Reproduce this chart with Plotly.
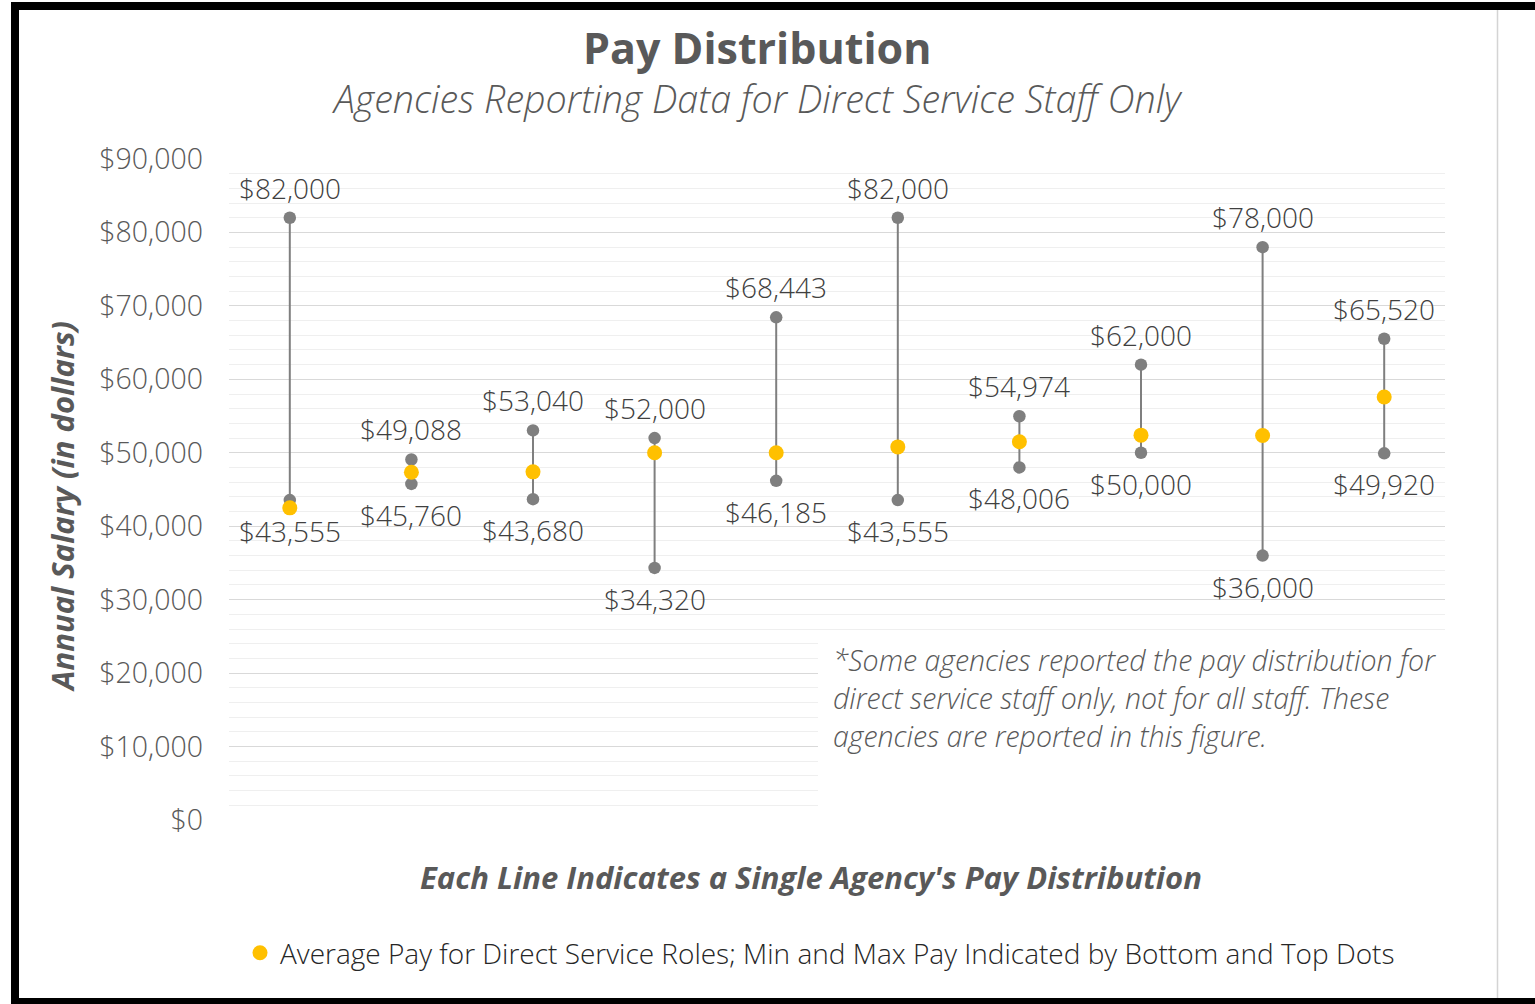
import plotly.graph_objects as go

# ---------------- data ----------------
AGENCIES = [1, 2, 3, 4, 5, 6, 7, 8, 9, 10]
MAX_PAY = [82000, 49088, 53040, 52000, 68443, 82000, 54974, 62000, 78000, 65520]
MIN_PAY = [43555, 45760, 43680, 34320, 46185, 43555, 48006, 50000, 36000, 49920]
AVG_PAY = [42500, 47350, 47400, 50000, 50000, 50800, 51500, 52400, 52350, 57600]
MAX_LABELS = ["$82,000", "$49,088", "$53,040", "$52,000", "$68,443",
              "$82,000", "$54,974", "$62,000", "$78,000", "$65,520"]
MIN_LABELS = ["$43,555", "$45,760", "$43,680", "$34,320", "$46,185",
              "$43,555", "$48,006", "$50,000", "$36,000", "$49,920"]
Y_TICKS = [0, 10000, 20000, 30000, 40000, 50000, 60000, 70000, 80000, 90000]
Y_TICK_LABELS = ["$0", "$10,000", "$20,000", "$30,000", "$40,000",
                 "$50,000", "$60,000", "$70,000", "$80,000", "$90,000"]
NOTE_LINES = ["*Some agencies reported the pay distribution for",
              "direct service staff only, not for all staff. These",
              "agencies are reported in this figure."]
TITLE = "Pay Distribution"
SUBTITLE = "Agencies Reporting Data for Direct Service Staff Only"
X_TITLE = "Each Line Indicates a Single Agency's Pay Distribution"
Y_TITLE = "Annual Salary (in dollars)"
LEGEND_TEXT = "Average Pay for Direct Service Roles; Min and Max Pay Indicated by Bottom and Top Dots"

# ---------------- layout geometry ----------------
W, H = 1535, 1004
L, R, T, B = 229, 1445, 159, 820   # plot area in pixels
FONT = "Open Sans"
GRAY_TXT = "#595959"
LBL_TXT = "#404040"
DOT_GRAY = "#7f7f7f"
GOLD = "#FFC000"


def px_x(p):
    return (p - L) / (R - L)


def px_y(p):
    return (B - p) / (B - T)


fig = go.Figure()

# vertical range lines
lx, ly = [], []
for a, lo, hi in zip(AGENCIES, MIN_PAY, MAX_PAY):
    lx += [a, a, None]
    ly += [lo, hi, None]
fig.add_trace(go.Scatter(x=lx, y=ly, mode="lines",
                         line=dict(color=DOT_GRAY, width=2),
                         showlegend=False, hoverinfo="skip"))

fig.add_trace(go.Scatter(x=AGENCIES, y=MIN_PAY, mode="markers",
                         marker=dict(color=DOT_GRAY, size=12.5),
                         showlegend=False, name="Min"))
fig.add_trace(go.Scatter(x=AGENCIES, y=MAX_PAY, mode="markers",
                         marker=dict(color=DOT_GRAY, size=12.5),
                         showlegend=False, name="Max"))
fig.add_trace(go.Scatter(x=AGENCIES, y=AVG_PAY, mode="markers",
                         marker=dict(color=GOLD, size=15),
                         showlegend=True, name=LEGEND_TEXT))

annotations = []
for a, v, t in zip(AGENCIES, MAX_PAY, MAX_LABELS):
    annotations.append(dict(x=a, y=v, text=t, showarrow=False, yshift=30,
                            xanchor="center", yanchor="middle",
                            font=dict(family=FONT, size=28, color=LBL_TXT, weight=300)))
for a, v, t in zip(AGENCIES, MIN_PAY, MIN_LABELS):
    annotations.append(dict(x=a, y=v, text=t, showarrow=False, yshift=-31,
                            xanchor="center", yanchor="middle",
                            font=dict(family=FONT, size=28, color=LBL_TXT, weight=300)))

# titles
annotations.append(dict(xref="paper", yref="paper", x=px_x(757), y=px_y(48),
                        text="<b>" + TITLE + "</b>", showarrow=False,
                        xanchor="center", yanchor="middle",
                        font=dict(family=FONT, size=43, color=GRAY_TXT)))
annotations.append(dict(xref="paper", yref="paper", x=px_x(757), y=px_y(98),
                        text="<i>" + SUBTITLE + "</i>", showarrow=False,
                        xanchor="center", yanchor="middle",
                        font=dict(family=FONT, size=37.7, color=GRAY_TXT, weight=300)))
annotations.append(dict(xref="paper", yref="paper", x=px_x(811), y=px_y(877),
                        text="<b><i>" + X_TITLE + "</i></b>", showarrow=False,
                        xanchor="center", yanchor="middle",
                        font=dict(family=FONT, size=31, color=GRAY_TXT)))
annotations.append(dict(xref="paper", yref="paper", x=px_x(62), y=px_y(507),
                        text="<b><i>" + Y_TITLE + "</i></b>", showarrow=False,
                        textangle=-90, xanchor="center", yanchor="middle",
                        font=dict(family=FONT, size=31, color=GRAY_TXT)))
for i, line in enumerate(NOTE_LINES):
    annotations.append(dict(xref="paper", yref="paper", x=px_x(831),
                            y=px_y(660 + 38 * i),
                            text="<i>" + line + "</i>", showarrow=False,
                            xanchor="left", yanchor="middle",
                            font=dict(family=FONT, size=28.5, color=GRAY_TXT, weight=300)))

shapes = [
    # white box behind note (covers gridlines)
    dict(type="rect", xref="paper", yref="paper", layer="above",
         x0=px_x(818), x1=px_x(1450), y0=px_y(812), y1=px_y(636),
         fillcolor="white", line=dict(width=0)),
    # frame
    dict(type="rect", xref="paper", yref="paper", layer="above",
         x0=px_x(11), x1=px_x(1535), y0=px_y(10), y1=px_y(2),
         fillcolor="black", line=dict(width=0)),
    dict(type="rect", xref="paper", yref="paper", layer="above",
         x0=px_x(11), x1=px_x(19), y0=px_y(1004), y1=px_y(2),
         fillcolor="black", line=dict(width=0)),
    dict(type="rect", xref="paper", yref="paper", layer="above",
         x0=px_x(11), x1=px_x(1535), y0=px_y(1004), y1=px_y(998),
         fillcolor="black", line=dict(width=0)),
    dict(type="line", xref="paper", yref="paper", layer="above",
         x0=px_x(1497.5), x1=px_x(1497.5), y0=px_y(998), y1=px_y(10),
         line=dict(color="#d4d4d4", width=1.5)),
]

fig.update_layout(
    width=W, height=H,
    margin=dict(l=L, r=W - R, t=T, b=H - B, pad=0),
    paper_bgcolor="white", plot_bgcolor="white",
    font=dict(family=FONT, color=GRAY_TXT),
    showlegend=True,
    legend=dict(orientation="h", x=px_x(240), y=px_y(953),
                xanchor="left", yanchor="middle",
                font=dict(family=FONT, size=28, color="#262626", weight=300),
                bgcolor="rgba(0,0,0,0)", itemwidth=30),
    xaxis=dict(range=[0.5, 10.5], showgrid=False, zeroline=False,
               showticklabels=False, showline=False, fixedrange=True),
    yaxis=dict(range=[0, 90000], tickvals=Y_TICKS, ticktext=Y_TICK_LABELS,
               showgrid=True, gridcolor="#d9d9d9", gridwidth=1.3,
               zeroline=False, showline=False,
               ticks="", ticklabelstandoff=25,
               tickfont=dict(family=FONT, size=28.5, color=GRAY_TXT, weight=300),
               minor=dict(dtick=2000, showgrid=True, gridcolor="#efefef",
                          gridwidth=1)),
    annotations=annotations,
    shapes=shapes,
)

fig.write_html("out.html", include_plotlyjs=True,
               config={"displayModeBar": False},
               post_script="document.body.style.margin='0';document.body.style.overflow='hidden';")
